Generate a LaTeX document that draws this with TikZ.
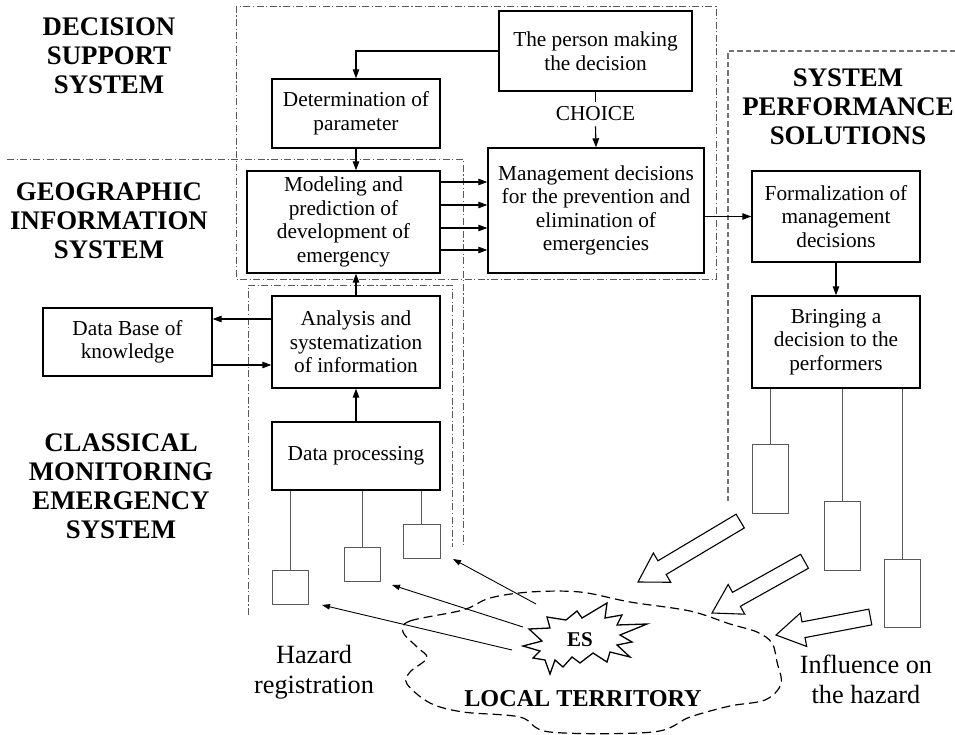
\documentclass[tikz,border=0pt]{standalone}
\usepackage{fontspec}
\setmainfont{Liberation Serif}
\usetikzlibrary{arrows.meta,calc}
\newcommand\hollowarrow[3]{%
  \begin{scope}[shift={(#1)}, rotate=#2]
    \draw[hollow] (0,0) -- (-28,-17) -- (-28,-8) -- (-#3,-8) -- (-#3,8) -- (-28,8) -- (-28,17) -- cycle;
  \end{scope}}
\begin{document}
\begin{tikzpicture}[x=1pt,y=-1pt,
  box/.style={draw, line width=1.4pt, align=center, inner sep=0pt, font=\fontsize{21.3}{23.5}\selectfont},
  sbox/.style={draw=black!65, line width=0.9pt, inner sep=0pt},
  link/.style={draw=black!65, line width=0.9pt},
  arr/.style={line width=1.1pt, -{Triangle[length=9pt,width=6.5pt]}},
  thinarr/.style={line width=0.9pt, -{Triangle[length=8pt,width=5.5pt]}},
  dashdot/.style={draw=black!65, line width=0.8pt, dash pattern=on 7pt off 2.5pt on 1.2pt off 2.5pt},
  spsdash/.style={draw=black!55, line width=1.2pt, dash pattern=on 5.5pt off 3pt},
  title/.style={font=\fontsize{26.8}{29}\selectfont\bfseries, align=center, inner sep=0pt},
  plain/.style={font=\fontsize{26.3}{30}\selectfont, align=center, inner sep=0pt},
  hollow/.style={draw, line width=1.1pt, fill=white, line join=miter}
]
\useasboundingbox (0,0) rectangle (955,735);

% region boundaries
\draw[dashdot] (236,6) rectangle (716,279);
\draw[dashdot] (7,159) -- (463,159) -- (463,547);
\draw[dashdot] (248,615) -- (248,285) -- (452,285) -- (452,547);
\draw[spsdash] (955,51) -- (728,51) -- (728,502);

% region titles
\node[title] (tdss) at (109,56) {DECISION\\SUPPORT\\SYSTEM};
\node[title] (tgis) at (109,220.5) {GEOGRAPHIC\\INFORMATION\\SYSTEM};
\node[title] (tcmes) at (121,486.5) {CLASSICAL\\MONITORING\\EMERGENCY\\SYSTEM};
\node[title] (tsps) at (848,107) {SYSTEM\\PERFORMANCE\\SOLUTIONS};

% main boxes
\node[box, minimum width=193, minimum height=80] (person) at (595.5,51) {The person making\\the decision};
\node[box, minimum width=168, minimum height=69] (determ) at (356,113.5) {Determination of\\parameter};
\node[box, minimum width=193, minimum height=102] (model) at (343.5,222) {Modeling and\\prediction of\\development of\\emergency};
\node[box, minimum width=216, minimum height=125] (manage) at (596,210.5) {Management decisions\\for the prevention and\\elimination of\\emergencies};
\node[box, minimum width=168, minimum height=91] (formal) at (836,216.5) {Formalization of\\management\\decisions};
\node[box, minimum width=168, minimum height=92] (bring) at (836,342) {Bringing a\\decision to the\\performers};
\node[box, minimum width=168, minimum height=92] (analysis) at (356,342) {Analysis and\\systematization\\of information};
\node[box, minimum width=169, minimum height=68] (database) at (127.5,342) {Data Base of\\knowledge};
\node[box, minimum width=168, minimum height=68] (dataproc) at (356,456) {Data processing};
\node[font=\fontsize{21.3}{23.5}\selectfont, inner xsep=0pt, inner ysep=5pt] (choice) at (595.5,114) {CHOICE};

% sensors and performers
\node[sbox, minimum width=36, minimum height=34] (s1) at (290,587) {};
\node[sbox, minimum width=36, minimum height=34] (s2) at (362,564) {};
\node[sbox, minimum width=37, minimum height=34] (s3) at (421.5,541) {};
\node[sbox, minimum width=36, minimum height=69] (p1) at (770,478.5) {};
\node[sbox, minimum width=36, minimum height=69] (p2) at (842,535.5) {};
\node[sbox, minimum width=36, minimum height=68] (p3) at (902,593) {};
\draw[link] (dataproc.south -| s1.north) -- (s1.north);
\draw[link] (dataproc.south -| s2.north) -- (s2.north);
\draw[link] (dataproc.south -| s3.north) -- (s3.north);
\draw[link] (bring.south -| p1.north) -- (p1.north);
\draw[link] (bring.south -| p2.north) -- (p2.north);
\draw[link] (bring.south -| p3.north) -- (p3.north);

% connectors
\draw[arr] (person.west) -| (determ.north);
\draw[arr] (determ.south) -- (determ.south |- model.north);
\foreach \o in {40,17,-6,-28}
  \draw[arr] ([yshift=\o pt]model.east) -- ([yshift=\o pt]model.east -| manage.west);
\draw[line width=1.1pt] (person.south) -- (choice.north);
\draw[arr] (choice.south) -- (manage.north);
\draw[arr] (manage.east |- formal.west) -- (formal.west);
\draw[arr] (formal.south) -- (bring.north);
\draw[arr] (analysis.north) -- (analysis.north |- model.south);
\draw[arr] ([yshift=23pt]analysis.west) -- ([yshift=23pt]analysis.west -| database.east);
\draw[arr] ([yshift=-23pt]database.east) -- ([yshift=-23pt]database.east -| analysis.west);
\draw[arr] (dataproc.north) -- (analysis.south);

% local territory cloud
\draw[line width=1.2pt, dash pattern=on 9pt off 5pt] plot[smooth cycle, tension=0.55] coordinates {
  (403,632) (410,621) (463,610) (490,598) (530,592) (580,592) (630,602) (690,611)
  (730,624) (757,632) (772,643) (777,662) (781,684) (765,700) (730,706) (690,717)
  (653,732) (550,732) (520,717) (463,712) (430,703) (407,684) (410,672) (427,658)
  (417,647)};

% ES star
\draw[line width=1.3pt, fill=white, line join=miter]
  (523,646) -- (542,641) -- (529,629) -- (550,628) -- (547,617) -- (566,620) -- (577,611) --
  (582,618) -- (607,603) -- (605,618) -- (622,615) -- (617,625) -- (647,624) -- (620,635) --
  (632,642) -- (617,645) -- (630,657) -- (610,652) -- (607,662) -- (593,653) -- (580,663) --
  (572,657) -- (563,667) -- (555,660) -- (550,674) -- (545,660) -- (533,658) -- (540,651) -- cycle;
\node[font=\fontsize{21}{24}\selectfont\bfseries, inner sep=0pt] (es) at (580,640) {ES};

% hazard registration arrows
\coordinate (e1) at (536,604); \coordinate (h1) at (453,559);
\coordinate (e2) at (523,627); \coordinate (h2) at (392,585);
\coordinate (e3) at (512,650); \coordinate (h3) at (322,605);
\draw[thinarr] (e1) -- (h1);
\draw[thinarr] (e2) -- (h2);
\draw[thinarr] (e3) -- (h3);

% influence block arrows
\coordinate (tip1) at (638,582);
\coordinate (tip2) at (712,613);
\coordinate (tip3) at (776,635);
\hollowarrow{tip1}{210.8}{119}
\hollowarrow{tip2}{209.2}{106}
\hollowarrow{tip3}{190.8}{96}

% labels
\node[plain] (hazard) at (314,672) {Hazard\\registration};
\node[plain] (influence) at (866,679) {Influence on\\the hazard};
\node[font=\fontsize{24.2}{28}\selectfont\bfseries, inner sep=0pt] (local) at (583,698.5) {LOCAL TERRITORY};
\end{tikzpicture}
\end{document}
